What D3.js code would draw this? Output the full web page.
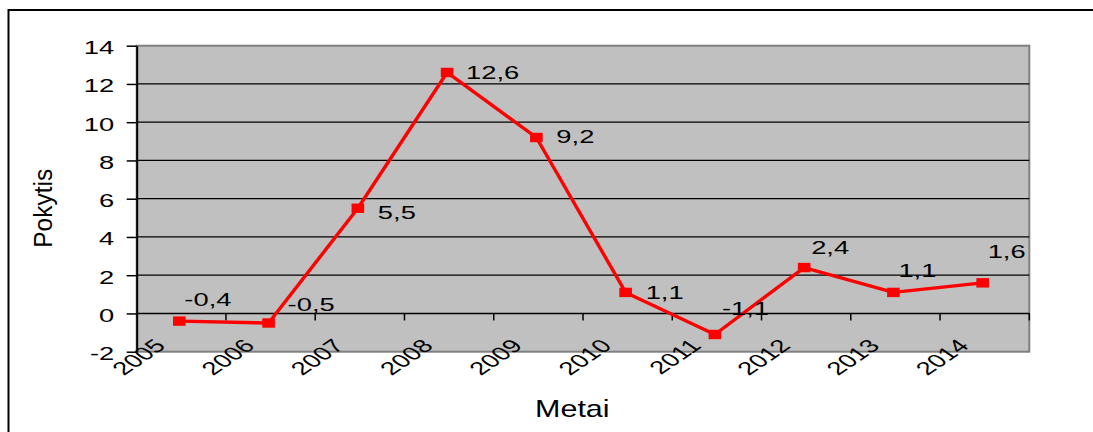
<!DOCTYPE html>
<html>
<head>
<meta charset="utf-8">
<script src="https://cdn.jsdelivr.net/npm/d3@7"></script>
<style>
  html, body { margin: 0; padding: 0; background: #fff; }
  svg { display: block; font-family: "Liberation Sans", Arial, sans-serif; }
</style>
</head>
<body>
<svg id="chart" width="1093" height="432"></svg>
<script>
// ---- data ----
const years = ["2005","2006","2007","2008","2009","2010","2011","2012","2013","2014"];
const values = [-0.4, -0.5, 5.5, 12.6, 9.2, 1.1, -1.1, 2.4, 1.1, 1.6];
const yTicks = [-2, 0, 2, 4, 6, 8, 10, 12, 14];
const yTitle = "Pokytis";
const xTitle = "Metai";
// label offsets (px) relative to each marker: [dx, dy]
const labelOffsets = [[5,-15],[19,-12],[20,11],[19,7],[20,5],[20,7],[7,-19],[7,-13.5],[5,-15],[5,-25]];

// ---- layout ----
const plot = { left: 136.7, right: 1029.3, top: 45.7, bottom: 351.7 };
const SX = 1.47;      // horizontal stretch of number text
const FS = 18.6;

const loc = d3.formatLocale({ decimal: ",", thousands: " ", grouping: [3], currency: ["", ""], minus: "-" });
const fmt1 = loc.format(".1f");
const fmt0 = loc.format("d");

const svg = d3.select("#chart");

// outer border
svg.append("rect").attr("x", 8.5).attr("y", 10).attr("width", 1100).attr("height", 440)
  .attr("fill", "none").attr("stroke", "#000").attr("stroke-width", 2);

const x = d3.scaleBand().domain(years).range([plot.left, plot.right]).padding(0);
const y = d3.scaleLinear().domain([-2, 14]).range([plot.bottom, plot.top]);
const cx = d => x(d) + x.bandwidth() / 2 - 2;

// plot background
svg.append("rect").attr("x", plot.left).attr("y", plot.top)
  .attr("width", plot.right - plot.left).attr("height", plot.bottom - plot.top)
  .attr("fill", "#c0c0c0").attr("stroke", "#808080").attr("stroke-width", 2);

// gridlines
svg.append("g").selectAll("line").data(yTicks.filter(v => v > 0 && v < 14)).join("line")
  .attr("x1", plot.left).attr("x2", plot.right)
  .attr("y1", d => y(d)).attr("y2", d => y(d))
  .attr("stroke", "#000").attr("stroke-width", 1.3);

// y axis
const yAxis = svg.append("g").attr("transform", `translate(${plot.left},0)`)
  .call(d3.axisLeft(y).tickValues(yTicks).tickSize(10).tickSizeOuter(0).tickFormat(fmt0));
yAxis.select(".domain").attr("stroke", "#000").attr("stroke-width", 2);
yAxis.selectAll(".tick line").attr("stroke", "#000").attr("stroke-width", 1.5);
yAxis.selectAll(".tick text")
  .attr("x", null).attr("dy", null)
  .attr("transform", `translate(-22.5,8) scale(${SX},1)`)
  .attr("text-anchor", "end").attr("fill", "#000")
  .style("font-size", FS + "px").style("font-family", "'Liberation Sans', Arial, sans-serif");

// x axis at y=0 with ticks at category boundaries
const xAxis = svg.append("g").attr("transform", `translate(0,${y(0)})`);
xAxis.append("line").attr("x1", plot.left).attr("x2", plot.right).attr("y1", 0).attr("y2", 0)
  .attr("stroke", "#000").attr("stroke-width", 1.5);
const bounds = years.map(d => x(d)).concat([plot.right]);
xAxis.selectAll("line.tk").data(bounds.slice(1)).join("line").attr("class", "tk")
  .attr("x1", d => d).attr("x2", d => d).attr("y1", 0).attr("y2", 7)
  .attr("stroke", "#000").attr("stroke-width", 1.5);

// year labels (rotated, below plot)
svg.append("g").selectAll("text").data(years).join("text")
  .attr("transform", d => `translate(${x(d) + x.bandwidth() / 2 - 14.5},347) scale(${SX},1) rotate(-45)`)
  .attr("text-anchor", "end").style("font-size", FS + "px").attr("fill", "#000")
  .text(d => d);

// line
const line = d3.line().x((d, i) => cx(years[i])).y(d => y(d));
svg.append("path").datum(values).attr("d", line)
  .attr("fill", "none").attr("stroke", "#ff0000").attr("stroke-width", 3.4).attr("stroke-linejoin", "round");

// markers
svg.append("g").selectAll("rect").data(values).join("rect")
  .attr("x", (d, i) => cx(years[i]) - 6.3).attr("y", d => y(d) - 4.7)
  .attr("width", 12.6).attr("height", 9.4).attr("fill", "#ff0000");

// data labels
svg.append("g").selectAll("text").data(values).join("text")
  .attr("transform", (d, i) => `translate(${cx(years[i]) + labelOffsets[i][0]},${y(d) + labelOffsets[i][1]}) scale(${SX},1)`)
  .attr("text-anchor", "start").style("font-size", FS + "px").attr("fill", "#000")
  .text(d => fmt1(d));

// axis titles
svg.append("text").attr("transform", "translate(51.5,208.3) scale(1.06,1) rotate(-90)")
  .attr("text-anchor", "middle").style("font-size", "24.5px").attr("fill", "#000").text(yTitle);
svg.append("text").attr("transform", "translate(572.3,417.3) scale(1.26,1)")
  .attr("text-anchor", "middle").style("font-size", "24.2px").attr("fill", "#000").text(xTitle);
</script>
</body>
</html>
